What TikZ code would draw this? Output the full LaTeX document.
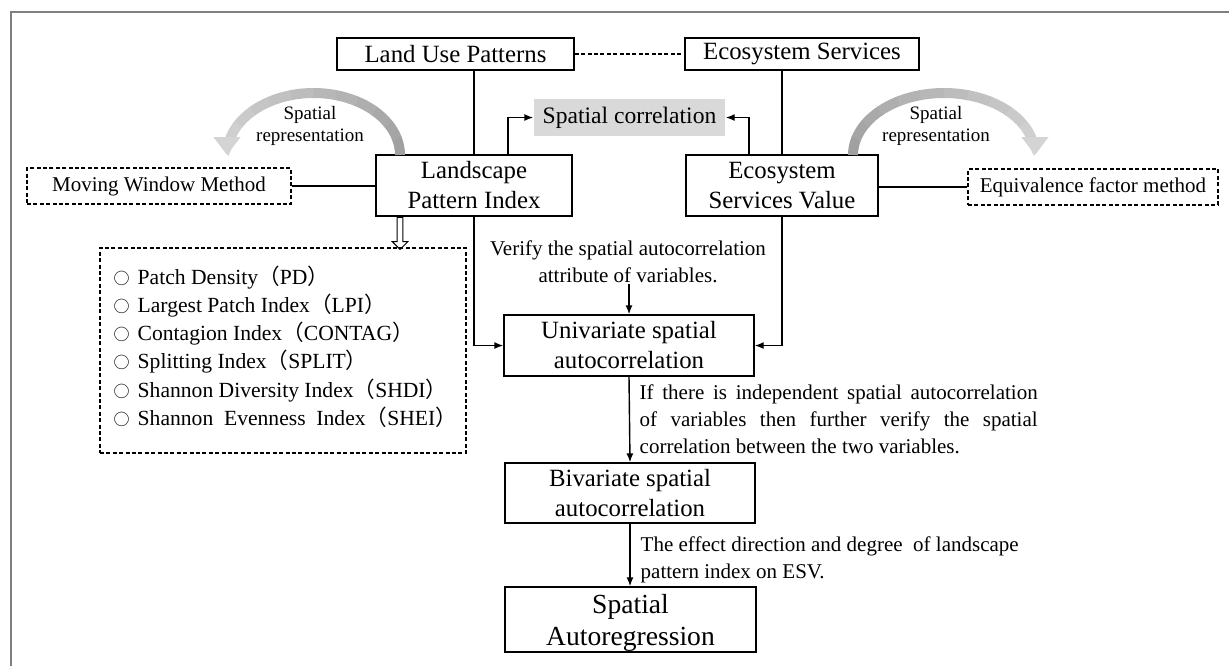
\documentclass[tikz,border=0pt]{standalone}
\usepackage{fontspec}
\setmainfont{Liberation Serif}
\newfontfamily\cjk{Noto Sans CJK SC}
\usetikzlibrary{arrows.meta, shapes.arrows}
\definecolor{mygray}{RGB}{128,128,128}
\definecolor{swdark}{RGB}{160,160,160}
\definecolor{swlight}{RGB}{212,212,212}
\definecolor{myfill}{RGB}{217,217,217}

\newcommand{\fwopen}{{\cjk （}}
\newcommand{\fwclose}{{\cjk ）}}
\newcommand{\listmark}{{\cjk\fontsize{8}{8}\selectfont ○}\hspace{4pt}}

\begin{document}
\begin{tikzpicture}[x=0.5pt, y=-0.5pt, line width=0.7pt,
    box/.style={draw, align=center, inner sep=0pt, font=\fontsize{12.4}{15}\selectfont},
    dbox/.style={draw, dashed, dash pattern=on 2pt off 1.2pt, align=center, inner sep=0pt, font=\fontsize{10.5}{13}\selectfont},
    note/.style={inner sep=0pt, font=\fontsize{10.5}{13.5}\selectfont},
    flow/.style={-{Latex[length=4.5pt, width=3.5pt]}},
    swoosh/.style={line width=5pt},
    rep/.style={align=center, inner sep=0pt, font=\fontsize{9.5}{11}\selectfont}]
    \useasboundingbox (0, 0) rectangle (1229, 666);
    % Frame, cut at the right and at the bottom
    \draw[mygray, line width=1pt] (1229, 12) -- (11, 12) -- (11, 666);

    % --- Top row
    \node[box, minimum width=118.5pt, minimum height=16pt] (lup) at (455.5, 54) {Land Use Patterns};
    \node[box, minimum width=117pt, minimum height=16pt] (es) at (802, 54) {Ecosystem Services};
    \draw[dashed, dash pattern=on 2pt off 1.2pt] (lup) -- (es);

    % Spatial correlation (grey, no border)
    \node[fill=myfill, inner sep=0pt, minimum width=95.5pt, minimum height=18.5pt,
        font=\fontsize{11.8}{14}\selectfont] (sc) at (629.5, 117.5) {Spatial correlation};

    % --- Index boxes
    \node[box, minimum width=98pt, minimum height=30.5pt] (lpi) at (474, 185.5) {Landscape\\Pattern Index};
    \node[box, minimum width=96pt, minimum height=30.5pt] (esv) at (782, 185.5) {Ecosystem\\Services Value};
    \draw (lup.south -| lpi.north) -- (lpi.north);
    \draw (es.south -| esv.north) -- (esv.north);
    \draw[flow] ([xshift=17pt]lpi.north) |- (sc.west);
    \draw[flow] ([xshift=-16.5pt]esv.north) |- (sc.east);

    % Methods on both sides
    \node[dbox, minimum width=132pt, minimum height=18pt] (mwm) at (159, 186) {Moving Window Method};
    \node[dbox, minimum width=125pt, minimum height=18pt] (efm) at (1093, 187) {Equivalence factor method};
    \draw (mwm.east) -- (mwm.east -| lpi.west);
    \draw (esv.east |- efm.west) -- (efm.west);

    % Grey curved arrows, dark at the start and light at the head
    \foreach \k in {0,...,10} {
        \pgfmathsetmacro{\pct}{100-\k*9}
        \draw[swoosh, draw=swdark!\pct!swlight] (313.5, 155) ++(-\k*15:86.5 and 62)
            arc[start angle=-\k*15, end angle=-\k*15-16, x radius=86.5, y radius=62];
        \draw[swoosh, draw=swdark!\pct!swlight] (944, 155) ++(180+\k*15:91 and 62)
            arc[start angle=180+\k*15, end angle=196+\k*15, x radius=91, y radius=62];
    }
    \draw[swoosh, draw=swlight, -{Triangle[width=13pt, length=9pt]}] (313.5, 155) ++(-165:86.5 and 62)
        arc[start angle=-165, end angle=-180, x radius=86.5, y radius=62];
    \draw[swoosh, draw=swlight, -{Triangle[width=13pt, length=9pt]}] (944, 155) ++(345:91 and 62)
        arc[start angle=345, end angle=360, x radius=91, y radius=62];
    \node[rep] (lrep) at (310, 126) {Spatial\\representation};
    \node[rep] (rrep) at (936, 126) {Spatial\\representation};

    % --- Indices of landscape pattern
    \node[single arrow, draw, line width=0.5pt, shape border rotate=270, minimum height=16pt,
        inner sep=1.2pt, single arrow head extend=2.5pt, single arrow head indent=0pt] (down) at (400, 232) {};
    \node[draw, dashed, dash pattern=on 2pt off 1.2pt, minimum width=183pt, minimum height=102.5pt] (idxbox) at (283, 350.5) {};
    \node[anchor=north west, inner sep=0pt, align=left, font=\fontsize{10.8}{14.1}\selectfont] (idxlist) at (113, 265) {%
        \listmark Patch Density\fwopen PD\fwclose\\
        \listmark Largest Patch Index\fwopen LPI\fwclose\\
        \listmark Contagion Index\fwopen CONTAG\fwclose\\
        \listmark Splitting Index\fwopen SPLIT\fwclose\\
        \listmark Shannon Diversity Index\fwopen SHDI\fwclose\\
        \listmark Shannon\ \ Evenness\ \ Index\fwopen SHEI\fwclose};

    % --- Main chain
    \node[box, minimum width=125pt, minimum height=30.5pt] (uni) at (629, 345.5) {Univariate spatial\\autocorrelation};
    \node[box, minimum width=125pt, minimum height=30pt] (biv) at (630, 493) {Bivariate spatial\\autocorrelation};
    \node[box, minimum width=125.5pt, minimum height=32.5pt, font=\fontsize{13.8}{16}\selectfont] (sar) at (630.5, 619.5) {\rule{0pt}{13pt}Spatial\\Autoregression};

    \node[note, align=center] (vtext) at (628, 262) {Verify the spatial autocorrelation\\attribute of variables.};
    \draw[flow] (vtext.south -| uni.north) -- (uni.north);
    \draw[flow] (lpi.south) |- (uni.west);
    \draw[flow] (esv.south) |- (uni.east);

    \draw[flow] (uni.south) -- (biv.north);
    \node[note, anchor=north west, text width=199pt, align=justify] (itext) at (639, 384) {If there is independent spatial autocorrelation\linebreak of variables then further verify the spatial\linebreak correlation between the two variables.};

    \draw[flow] (biv.south) -- (sar.north -| biv.south);
    \node[note, anchor=north west, align=left] (etext) at (640, 536) {The effect direction and degree\ \ of landscape\\pattern index on ESV.};
\end{tikzpicture}
\end{document}
